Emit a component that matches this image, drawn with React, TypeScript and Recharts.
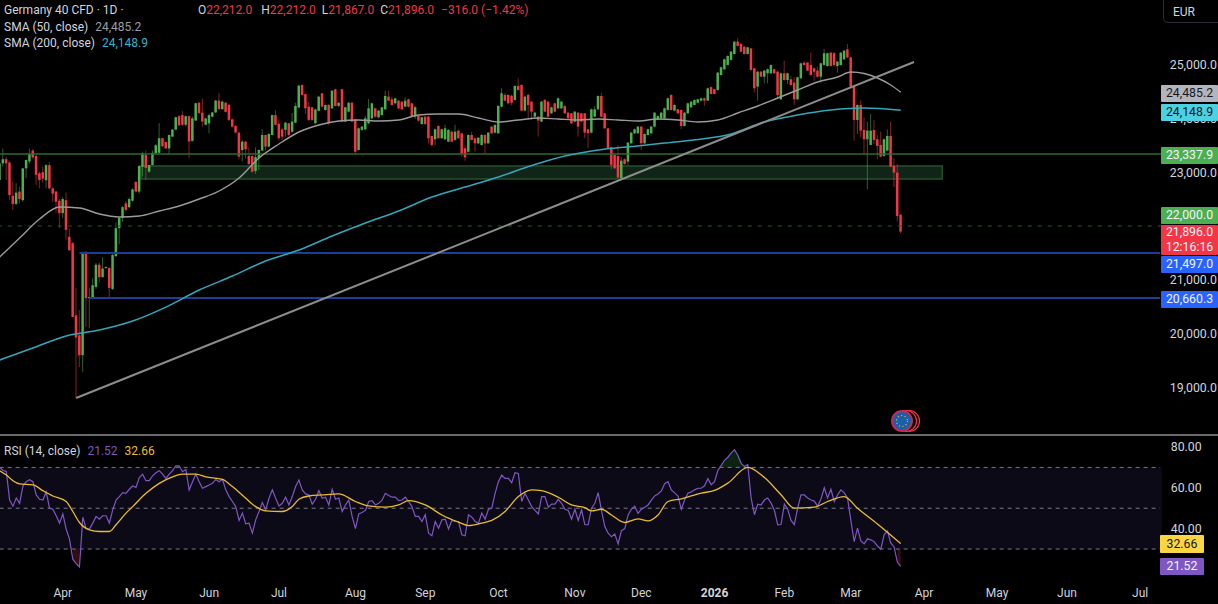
import { ComposedChart, Bar, Line, Area, XAxis, YAxis, ReferenceLine, ReferenceArea } from 'recharts';

const opens = [
  22855,23164,23240,23180,22560,22410,22640,22480,23070,23200,
  23400,23300,22980,23000,22850,23130,22700,22640,22470,22240,
  22480,21800,21680,20340,19970,19600,21520,20660,20660,20870,
  21280,21050,21220,21220,20830,21440,21960,22150,22420,22350,
  22470,22820,22640,23100,23320,23010,23130,23350,23360,23630,
  23560,23440,23660,23790,24040,24060,23880,24040,23580,23960,
  24290,24105,23880,23905,24030,24110,24330,24170,24290,24250,
  23980,23860,23735,23412,23567,23300,23300,23020,23260,23400,
  23690,23475,23690,24060,23900,23795,23785,23908,23750,23920,
  24200,24620,24450,24217,24205,23908,24140,24465,24155,24248,
  24186,24540,24230,24540,23940,24125,24290,23980,23412,23785,
  23796,23908,24000,24186,24019,24062,24168,24403,24353,24279,
  24328,24310,24217,24353,24279,24031,24043,23895,24031,24031,
  23672,23610,23858,23630,23610,23567,23753,23598,23771,23722,
  23443,23380,23691,23629,23536,23505,23691,23536,23846,23734,
  23722,24217,24434,24434,24420,24341,24601,24620,24143,24434,
  24310,24031,24031,23939,24341,24310,24093,24279,24186,24186,
  24230,24106,24093,23939,24106,24093,24093,23796,23734,24031,
  24168,24415,24093,23815,23462,23320,23300,22886,23240,23196,
  23536,23722,23722,23846,23536,23691,23722,23846,23982,24000,
  24000,24155,24434,24143,24168,24155,23858,24093,24205,24248,
  24291,24329,24372,24329,24580,24540,24527,24805,24911,24991,
  25084,25195,25424,25381,25331,25195,25300,24929,24589,24867,
  24774,24836,24836,24911,24867,24353,24836,24712,24725,24663,
  24353,24744,25034,25034,24991,24929,24886,24774,24991,24972,
  25220,25210,24972,24991,25096,25282,25133,24601,23970,24248,
  23784,23611,23506,23784,23611,23506,23301,23400,23673,23115,
  22992,22212,
];
const highs = [
  23226,23440,23290,23200,22825,22795,22730,23080,23235,23440,
  23430,23320,23010,23100,23150,23190,22720,22650,22500,22540,
  22620,21960,21700,20850,20440,21520,21530,20860,21030,21310,
  21320,21420,21240,21240,21500,22060,22160,22370,22460,22530,
  22700,22830,23130,23380,23400,23140,23400,23520,23910,23640,
  23570,23700,23800,24030,24060,24135,24050,24050,24030,24290,
  24300,24370,24010,24090,24120,24340,24465,24330,24310,24260,
  24000,23870,23750,23600,23580,23460,23310,23460,23420,23800,
  23700,23720,24070,24155,23970,23830,23930,23915,24100,24290,
  24625,24630,24460,24300,24215,24180,24420,24470,24260,24270,
  24520,24550,24300,24550,24215,24300,24300,23985,23830,23860,
  24050,24360,24290,24200,24160,24215,24510,24510,24400,24380,
  24340,24320,24390,24370,24290,24230,24060,24030,24040,24040,
  23680,23810,23870,23810,23880,23800,23770,23880,23790,23730,
  23500,23700,23753,23640,23650,23710,23700,23745,23860,23890,
  24240,24560,24470,24445,24440,24610,24743,24630,24415,24465,
  24320,24120,24040,24320,24360,24320,24215,24290,24390,24320,
  24240,24115,24100,24135,24115,24100,24100,23805,24180,24230,
  24425,24477,24100,23825,23470,23330,23505,23280,23260,23560,
  23745,23810,23860,23855,23720,23810,23860,24115,24055,24118,
  24200,24385,24445,24260,24175,24165,24118,24290,24320,24350,
  24365,24385,24385,24570,24590,24550,24860,24960,25110,25170,
  25250,25440,25486,25400,25340,25330,25310,24940,24880,24880,
  24900,24925,25000,24925,24880,24850,25070,24850,24790,24760,
  24775,25035,25060,25045,25220,24940,24960,25035,25290,25220,
  25230,25235,25065,25232,25270,25381,25145,24610,24260,24341,
  24020,23939,24081,23970,23691,23753,23623,23797,23939,23258,
  23153,22212,
];
const lows = [
  22669,23100,22855,22483,22297,22390,22420,22450,22885,23160,
  23250,22760,22700,22800,22700,22680,22450,22250,21960,22150,
  21750,21540,20310,18805,19380,19290,20120,20100,20640,20830,
  20950,21040,21200,20660,20810,21430,21660,22080,22270,22330,
  22450,22620,22600,22920,22850,22990,23130,23330,23340,23470,
  23430,23320,23650,23780,23860,23860,23850,23260,23570,23950,
  24090,23845,23870,23720,24020,24100,24160,24160,24110,23950,
  23830,23720,23240,23200,23250,23130,22990,22970,23040,23390,
  23400,23460,23680,23870,23590,23590,23660,23670,23740,23910,
  24190,24420,24080,23950,23950,23890,24130,24200,24140,23880,
  24170,24220,24210,23930,23930,24110,23930,23340,23400,23770,
  23780,23890,23980,24010,24000,24040,24160,24320,24240,24270,
  24170,24150,24205,24200,24015,23990,23940,23880,23880,23530,
  23470,23500,23620,23620,23600,23555,23555,23585,23620,23290,
  23210,23370,23590,23382,23520,23490,23350,23525,23710,23720,
  23710,24200,24320,24270,24240,24330,24510,24130,24130,23970,
  23970,24020,23660,23930,24110,24020,24080,24110,24175,24175,
  24080,23990,23895,23925,23660,23930,23630,23443,23720,24020,
  24155,24020,23805,23430,23050,23060,22885,22880,23140,23130,
  23525,23710,23710,23412,23525,23680,23710,23835,23970,23990,
  23990,24145,24145,24130,24080,23800,23850,24080,24195,24240,
  24280,24310,24230,24320,24440,24445,24515,24795,24900,24980,
  25075,25185,25335,25230,25185,25185,24890,24480,24329,24765,
  24650,24650,24825,24825,24360,24340,24700,24640,24610,24250,
  24340,24735,24980,24875,24795,24700,24760,24660,24980,24960,
  24960,24960,24850,24980,25085,25120,24580,23586,23710,23648,
  23338,22682,23506,23524,23239,23277,23289,23400,23090,22720,
  22082,21867,
];
const closes = [
  23164,23240,23164,22575,22410,22620,22500,23070,23226,23340,
  23275,22950,22855,22880,23130,22700,22600,22450,22240,22500,
  21930,21550,20310,19930,19600,21500,20660,20680,20900,21280,
  21050,21210,21240,20850,21460,21960,22150,22350,22300,22500,
  22680,22640,23115,23350,23080,23130,23360,23500,23630,23480,
  23440,23690,23790,24020,23870,23880,24040,23570,24000,24280,
  24095,23940,24000,24060,24110,24330,24170,24310,24120,23970,
  23845,23735,23290,23567,23425,23150,23010,23280,23412,23690,
  23475,23710,24060,23880,23630,23660,23920,23690,23940,24230,
  24607,24434,24186,23970,23970,24165,24403,24217,24248,23908,
  24514,24230,24290,23940,24205,24290,23940,23380,23815,23846,
  24000,24186,24279,24031,24143,24205,24415,24328,24248,24372,
  24186,24168,24328,24217,24031,24205,23957,24019,23895,23630,
  23505,23796,23630,23796,23815,23784,23567,23753,23630,23350,
  23276,23691,23598,23536,23640,23691,23536,23734,23722,23877,
  24230,24465,24328,24279,24290,24601,24527,24143,24403,24248,
  24124,24106,23957,24310,24124,24031,24205,24124,24372,24310,
  24093,24000,23908,24124,23846,23939,23734,23722,24168,24168,
  24415,24031,23815,23443,23134,23072,22900,23214,23150,23549,
  23734,23796,23846,23536,23710,23796,23846,24106,24043,24106,
  24186,24372,24155,24248,24093,23858,24106,24279,24310,24341,
  24353,24372,24329,24558,24453,24453,24849,24948,25096,25158,
  25239,25424,25344,25239,25195,25319,24898,24558,24867,24774,
  24886,24911,24991,24836,24434,24836,24712,24836,24620,24353,
  24762,25022,24991,24886,24805,24867,24774,25022,25208,25208,
  24972,24990,25053,25220,25257,25133,24589,23970,24248,23772,
  23611,23772,23772,23598,23487,23289,23611,23673,23103,22992,
  22187,21896,
];

// moving averages read every few bars, the line joins them
const sma50Idx = [0,6,12,18,24,30,36,42,48,54,60,66,72,78,84,90,96,102,108,114,120,126,132,138,144,150,156,162,168,174,180,186,192,198,204,210,216,222,228,234,240,246,252,256,260,264,268,271];
const sma50Vals = [21423,21776,22129,22352,22334,22222,22167,22185,22278,22371,22501,22650,22891,23263,23523,23746,23876,23950,23969,23950,23969,24062,24080,24080,24006,23932,23969,24006,23987,23969,23987,23969,23950,23987,23969,23932,23969,24099,24229,24378,24526,24675,24768,24861,24833,24749,24619,24485];
const sma200Idx = [0,10,20,30,40,50,60,70,80,90,100,110,120,130,140,150,160,170,180,190,200,210,220,230,240,250,260,271];
const sma200Vals = [19510,19733,19956,20067,20234,20494,20810,21070,21349,21553,21814,22055,22278,22538,22724,22910,23123,23300,23411,23476,23541,23606,23709,23932,24062,24155,24192,24149];

const rsi = [
  70,68.5,68,54,51,55,52.4,61,63,64,
  63,56.5,54.4,54,58,50,49.5,46.3,42.7,47.2,
  39.8,34.9,25,22.8,21.2,45.6,40,39.8,42.7,46,
  44.6,46.3,46.3,42.7,49.2,54,55.7,57.6,57.3,59.3,
  60.9,60.2,65,66.7,63.5,63.5,65.9,67.4,68.4,66.7,
  64.6,66.7,68.4,70.8,70.8,67.9,69,58.9,63,66.7,
  63,59.8,60.6,61.4,62.2,64.1,63,64.1,59,55.7,
  53.3,50.8,44,47.6,42.4,42.7,37.8,44.3,48.4,52.8,
  49.2,54.9,59,54.9,51.1,52.4,55.4,51.6,55.7,60.6,
  63.8,59,57,56.5,52,54.4,58.6,54.9,55.4,51.6,
  59.3,54.4,55,48.4,51.6,54,46,40,47.2,47.9,
  48.9,53.3,53.7,51.6,52.4,54,57.3,56.2,55.4,55.4,
  53.7,54,55.4,53.3,50.8,46,46,43.5,46.8,37.8,
  36.5,43.5,40.2,44.3,44.6,39.8,44,43.5,43.5,37,
  36.5,46.8,45.6,43.5,42.7,47.6,44.6,49.5,50,57.3,
  63,66.3,64.6,64.6,62.5,67.4,67,53.3,57.3,54,
  50.8,48.9,47.2,55.7,55.7,50.5,52,52,54.4,52.4,
  49.5,48.9,44.6,49.5,44,49.2,41.9,41.9,50,52.4,
  57.6,49,41,37.8,36,37.4,32.5,39,40,46.7,
  49.5,51,47.5,49.5,50.5,51.6,54,56,57,58.5,
  62,63,59,57.5,56,49.5,54,57.4,58,59,
  59.8,59.8,61,64.5,61.5,63,68.5,71,73.5,75,
  77,78.7,76,72,70.5,71.3,55,46.8,52,51.6,
  54,55,52.5,49,41.8,42,52,49.5,44,42,
  50,56.5,56.5,55,54,53.5,51,54.5,60,55,
  59.3,53.3,56.5,59,57.5,55,44,33.6,40.2,34,
  32.5,35,34.5,33.6,31.5,30,37,38.9,33,31,
  23.5,21.52,
];
const rsiMaIdx = [0,2,4,6,10,13,16,20,22,24,27,30,33,35,38,40,44,48,52,55,59,62,67,70,74,77,80,85,88,90,93,97,102,107,111,116,120,123,128,133,138,141,145,148,152,156,160,163,168,172,176,178,181,184,188,192,195,198,201,205,211,215,219,225,230,235,239,245,249,254,258,264,271];
const rsiMaVals = [68.4,66.3,63.5,61.9,61.4,58.6,56,53.3,48.4,43,39.4,38.6,38.6,41.9,47.6,50.8,57.3,62.2,65.4,66.7,66.7,65.4,64.1,60.6,54.9,50.8,48.7,48.4,50.8,54.4,56,56.5,57,53.3,51.1,50.5,51.6,53.7,51.6,46.7,43.2,41.5,42.7,44,48.4,55.7,59,58.6,55.4,51.6,50.3,48.7,49.5,46.7,43,44.8,43.8,46.7,53.3,54.6,57.4,58.7,62.3,70,65,56.6,50,50.5,53.3,55.7,50,42.3,32.66];

const monthIdx = [19,41,63,84,107,128,150,173,193,215,236,256,278,300,321,343];
const monthLabels = ['Apr','May','Jun','Jul','Aug','Sep','Oct','Nov','Dec','2026','Feb','Mar','Apr','May','Jun','Jul'];
const priceTicks = [19000,20000,21000,23000,24000,25000];
const rsiTicks = [40,60,80];

const SLOTS = 350;
const rows = Array.from({ length: SLOTS }, (_, i) => {
  const a = sma50Idx.indexOf(i);
  const b = sma200Idx.indexOf(i);
  const c = rsiMaIdx.indexOf(i);
  const r = rsi[i];
  return {
    i,
    open: opens[i],
    high: highs[i],
    low: lows[i],
    close: closes[i],
    range: i < opens.length ? [lows[i], highs[i]] : null,
    sma50: a >= 0 ? sma50Vals[a] : null,
    sma200: b >= 0 ? sma200Vals[b] : null,
    rsi: r ?? null,
    rsiMa: c >= 0 ? rsiMaVals[c] : null,
    below: r != null && r <= 30 ? [r, 30] : null,
    above: r != null && r >= 70 ? [70, r] : null,
  };
});

const FONT = 'Roboto, sans-serif';
const UP = '#4caf50';
const DOWN = '#f23645';

function Candle(props: any) {
  const { x, y, width, height, payload } = props;
  if (payload.high == null || !height) return null;
  const ppu = height / (payload.high - payload.low);
  const yOpen = y + (payload.high - payload.open) * ppu;
  const yClose = y + (payload.high - payload.close) * ppu;
  const up = payload.close >= payload.open;
  const color = up ? UP : DOWN;
  const cx = x + width / 2;
  const top = Math.min(yOpen, yClose);
  const h = Math.max(Math.abs(yClose - yOpen), 1);
  return (
    <g>
      <line x1={cx} x2={cx} y1={y} y2={y + height} stroke={color} strokeOpacity={0.55} strokeWidth={1} />
      <rect x={cx - 1.25} y={top} width={2.5} height={h} fill={color} />
    </g>
  );
}

function MonthTick(props: any) {
  const { x, y, index } = props;
  const label = monthLabels[index];
  return (
    <text x={x} y={y + 11} textAnchor="middle" fill="#d1d4dc" fontSize={12} fontFamily={FONT} fontWeight={label === '2026' ? 700 : 400}>
      {label}
    </text>
  );
}

function Tag({ top, height = 17, bg, color, text, right = 0, width = 57, lineHeight }: any) {
  return (
    <div style={{ position: 'absolute', right, top, width, height, lineHeight: (lineHeight ?? height) + 'px', background: bg, color, fontSize: 12.3, textAlign: 'center', whiteSpace: 'pre-line', borderRadius: 1 }}>
      {text}
    </div>
  );
}

function Caption({ top, left, children }: any) {
  return <div style={{ position: 'absolute', top, left, fontSize: 12, lineHeight: '16px', color: '#d1d4dc', whiteSpace: 'nowrap' }}>{children}</div>;
}

const price = (v: number) => v.toLocaleString('en-US', { minimumFractionDigits: 1 });

export default function App() {
  return (
    <div style={{ position: 'fixed', left: 0, top: 0, width: 1218, height: 604, background: '#000', overflow: 'hidden', fontFamily: FONT }}>
      <div style={{ position: 'absolute', left: -2.36, top: 0 }}>
        <ComposedChart width={1221} height={434} data={rows} margin={{ top: 0, right: 0, bottom: 0, left: 0 }}>
          <XAxis dataKey="i" scale="band" hide />
          <YAxis
            orientation="right"
            width={57.25}
            domain={[18136, 26198]}
            ticks={priceTicks}
            interval={0}
            axisLine={false}
            tickLine={false}
            tickSize={0}
            tickMargin={8}
            tickFormatter={price}
            tick={{ fill: '#d1d4dc', fontSize: 12.3, fontFamily: FONT }}
          />
          <ReferenceArea x1={43} x2={283} y1={22872} y2={23114} fill="#102418" fillOpacity={1} stroke="#245028" strokeWidth={1.5} />
          <ReferenceLine y={23337.9} stroke="#2c6a30" strokeWidth={1.5} />
          <ReferenceLine y={22000} stroke="#2a5a2e" strokeDasharray="4 6" />
          <ReferenceLine segment={[{ x: 24, y: 21497 }, { x: 349, y: 21497 }]} stroke="#1c3f96" strokeWidth={2} />
          <ReferenceLine segment={[{ x: 27, y: 20660.3 }, { x: 349, y: 20660.3 }]} stroke="#1c3f96" strokeWidth={2} />
          <Bar dataKey="range" shape={Candle} barSize={3} isAnimationActive={false} />
          <Line dataKey="sma50" stroke="#9a9a9a" strokeWidth={1.4} dot={false} activeDot={false} connectNulls type="monotone" isAnimationActive={false} />
          <Line dataKey="sma200" stroke="#34a6ba" strokeWidth={1.5} dot={false} activeDot={false} connectNulls type="monotone" isAnimationActive={false} />
          <ReferenceLine segment={[{ x: 23, y: 18805 }, { x: 275, y: 25046 }]} stroke="#8c8c8c" strokeWidth={2} />
        </ComposedChart>
      </div>

      <div style={{ position: 'absolute', left: 0, right: 0, top: 434, height: 2, background: '#6a6a6a' }} />

      <div style={{ position: 'absolute', left: -2.36, top: 436 }}>
        <ComposedChart width={1221} height={168} data={rows} margin={{ top: 0, right: 0, bottom: 0, left: 0 }}>
          <XAxis
            dataKey="i"
            scale="band"
            height={26}
            ticks={monthIdx}
            interval={0}
            axisLine={false}
            tickLine={false}
            tick={MonthTick}
          />
          <YAxis
            orientation="right"
            width={57.25}
            domain={[15.8, 85.4]}
            ticks={rsiTicks}
            interval={0}
            axisLine={false}
            tickLine={false}
            tickSize={0}
            tickMargin={9}
            tickFormatter={(v: number) => v.toFixed(2)}
            tick={{ fill: '#d1d4dc', fontSize: 12.3, fontFamily: FONT }}
          />
          <ReferenceArea x1={0} x2={349} y1={30} y2={70} fill="#0d0a18" fillOpacity={1} stroke="none" />
          <ReferenceLine segment={[{ x: 0, y: 70 }, { x: 349, y: 70 }]} stroke="#787b86" strokeDasharray="4 4" />
          <ReferenceLine segment={[{ x: 0, y: 50 }, { x: 349, y: 50 }]} stroke="#787b86" strokeDasharray="4 4" />
          <ReferenceLine segment={[{ x: 0, y: 30 }, { x: 349, y: 30 }]} stroke="#787b86" strokeDasharray="4 4" />
          <Area dataKey="below" fill="#3a0e14" fillOpacity={0.9} stroke="none" activeDot={false} isAnimationActive={false} />
          <Area dataKey="above" fill="#0c2814" fillOpacity={0.9} stroke="none" activeDot={false} isAnimationActive={false} />
          <Line dataKey="rsi" stroke="#7e57c2" strokeWidth={1.2} dot={false} activeDot={false} isAnimationActive={false} />
          <Line dataKey="rsiMa" stroke="#e8bd2d" strokeWidth={1.3} dot={false} activeDot={false} connectNulls type="monotone" isAnimationActive={false} />
        </ComposedChart>
      </div>

      <Caption top={2} left={4}>Germany 40 CFD · 1D ·</Caption>
      <Caption top={19} left={4}>SMA (50, close) <span style={{ color: '#9a9ea8', marginLeft: 4 }}>24,485.2</span></Caption>
      <Caption top={35} left={4}>SMA (200, close) <span style={{ color: '#35b3c9', marginLeft: 4 }}>24,148.9</span></Caption>
      <Caption top={2} left={198}>
        O<span style={{ color: DOWN }}>22,212.0</span>{'  '}
        <span style={{ marginLeft: 6 }}>H</span><span style={{ color: DOWN }}>22,212.0</span>
        <span style={{ marginLeft: 6 }}>L</span><span style={{ color: DOWN }}>21,867.0</span>
        <span style={{ marginLeft: 6 }}>C</span><span style={{ color: DOWN }}>21,896.0</span>
        <span style={{ color: DOWN, marginLeft: 7 }}>−316.0 (−1.42%)</span>
      </Caption>
      <Caption top={443} left={4}>RSI (14, close) <span style={{ color: '#7e57c2', marginLeft: 4 }}>21.52</span><span style={{ color: '#e8bd2d', marginLeft: 7 }}>32.66</span></Caption>

      <div style={{ position: 'absolute', left: 1163, top: -2, width: 60, height: 25, border: '1px solid #2a2e39', borderBottomLeftRadius: 5, color: '#d1d4dc', fontSize: 12, lineHeight: '27px', paddingLeft: 9, boxSizing: 'border-box' }}>EUR</div>

      <Tag top={85} bg="#b2b5be" color="#131722" text="24,485.2" />
      <Tag top={104} bg="#4dd0e1" color="#131722" text="24,148.9" />
      <Tag top={147} bg={UP} color="#f0f3fa" text="23,337.9" />
      <Tag top={207} bg={UP} color="#f0f3fa" text="22,000.0" />
      <Tag top={225} height={30} lineHeight={15} bg={DOWN} color="#f0f3fa" text={'21,896.0\n12:16:16'} />
      <Tag top={256} bg="#2962ff" color="#f0f3fa" text="21,497.0" />
      <Tag top={291} bg="#2962ff" color="#f0f3fa" text="20,660.3" />
      <Tag top={535} right={14} width={44} height={18} bg="#fbd542" color="#131722" text="32.66" />
      <Tag top={558} right={14} width={44} height={17} bg="#7e57c2" color="#f0f3fa" text="21.52" />

      <svg style={{ position: 'absolute', left: 888, top: 408 }} width={36} height={26}>
        <circle cx={21} cy={13} r={10.5} fill="#000" stroke={DOWN} strokeWidth={1.2} />
        <circle cx={18} cy={13} r={10.5} fill="#000" stroke={DOWN} strokeWidth={1.2} />
        <circle cx={14} cy={13} r={10} fill="#1b5fa8" stroke="#c22a5a" strokeWidth={2} />
        <circle cx={14} cy={13} r={5.5} fill="none" stroke="#e8c93a" strokeWidth={1.2} strokeDasharray="1 2.5" />
      </svg>
    </div>
  );
}
